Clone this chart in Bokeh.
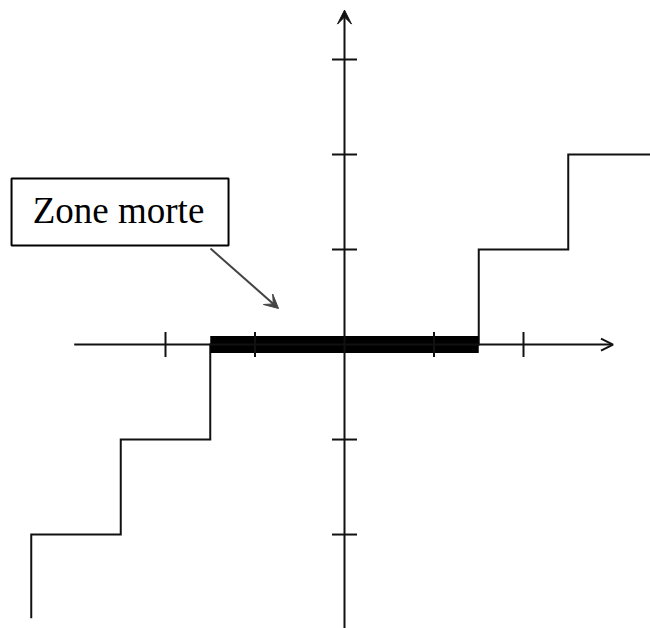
import numpy as np
from bokeh.plotting import figure
from bokeh.models import Range1d, Arrow, OpenHead, VeeHead
from bokeh.core.properties import value
from bokeh.embed import file_html
from bokeh.resources import INLINE

# --- data ---
stair_x = [-3.5, -3.5, -2.5, -2.5, -1.5, -1.5, 1.5, 1.5, 2.5, 2.5, 3.45]
stair_y = [-2.88, -2, -2, -1, -1, 0, 0, 1, 1, 2, 2]
dead_x = [-1.5, 1.5]
dead_y = [0, 0]
xticks = [-2, -1, 1, 2]
yticks = [-2, -1, 1, 2, 3]
x_axis_span = (-3.02, 3.0)
y_axis_span = (-3.0, 3.52)
label_text = "Zone morte"
label_pos = (-2.525, 1.411)
box_pos = (-2.508, 1.395)
pointer_from = (-1.497, 1.01)
pointer_to = (-0.737, 0.379)

p = figure(width=650, height=628, output_backend="svg", toolbar_location=None,
           x_range=Range1d(-3.8436, 3.419), y_range=Range1d(-2.989, 3.621),
           min_border=0, outline_line_color=None)
p.axis.visible = False
p.grid.visible = False
p.background_fill_color = "white"
p.border_fill_color = "white"

# axes with arrows
p.add_layout(Arrow(x_start=x_axis_span[0], y_start=0, x_end=x_axis_span[1], y_end=0,
                   line_color="#111111", line_width=2,
                   end=OpenHead(size=12, line_color="#111111", line_width=2)))
p.add_layout(Arrow(x_start=0, y_start=y_axis_span[0], x_end=0, y_end=y_axis_span[1],
                   line_color="#111111", line_width=2,
                   end=VeeHead(size=14, line_color="#111111", fill_color="#111111", line_width=1)))

# staircase
p.line(stair_x, stair_y, line_color="#111111", line_width=2, line_join="miter")

# dead zone
p.line(dead_x, dead_y, line_color="black", line_width=17, line_cap="butt")

# ticks
p.scatter(xticks, [0] * len(xticks), marker="dash", size=25, angle=np.pi / 2,
          line_color="#111111", line_width=2)
p.scatter([0] * len(yticks), yticks, marker="dash", size=25,
          line_color="#111111", line_width=2)

# label box
p.rect(x=[box_pos[0]], y=[box_pos[1]], width=217, height=67,
       width_units="screen", height_units="screen",
       fill_color="white", line_color="black", line_width=2)
p.text(x=[label_pos[0]], y=[label_pos[1]], text=[label_text],
       text_font=value("Liberation Serif"), text_font_size="37px",
       text_align="center", text_baseline="alphabetic", text_color="black")

# pointer arrow
p.add_layout(Arrow(x_start=pointer_from[0], y_start=pointer_from[1],
                   x_end=pointer_to[0], y_end=pointer_to[1],
                   line_color="#444444", line_width=2,
                   end=VeeHead(size=14, line_color="#444444", fill_color="#444444", line_width=1)))

open("out.html", "w").write(file_html(p, INLINE))
